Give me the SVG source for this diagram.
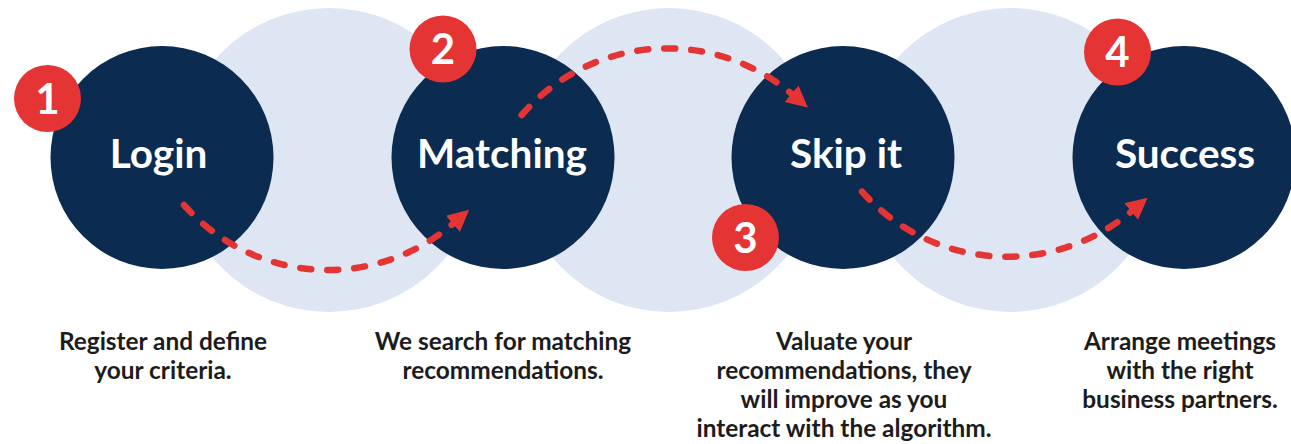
<svg xmlns="http://www.w3.org/2000/svg" width="1291" height="444" viewBox="0 0 1291 444">
<style>
.bg{fill:#dfe6f3}
.node{fill:#0b2b50}
.badge{fill:#e53434}
.lbl{font-family:Lato,"Liberation Sans",sans-serif;font-weight:700;font-size:40.5px;fill:#fff;text-anchor:middle}
.num{font-family:Lato,"Liberation Sans",sans-serif;font-weight:700;font-size:42px;fill:#fff;text-anchor:middle}
.cap{font-family:Lato,"Liberation Sans",sans-serif;font-weight:700;font-size:24.4px;fill:#1c1c1c;text-anchor:middle}
.flow{fill:none;stroke:#e53434;stroke-width:6.5;stroke-linecap:round;stroke-dasharray:11 16;marker-end:url(#ah)}
</style>
<defs>
<marker id="ah" viewBox="0 0 10 10" refX="0" refY="5" markerWidth="3.3" markerHeight="3.7" orient="auto" markerUnits="strokeWidth">
<path d="M0,0 L10,5 L0,10 z" fill="#e53434"/>
</marker>
</defs>
<g id="background">
<circle class="bg" cx="329" cy="160" r="152"/>
<circle class="bg" cx="669" cy="160" r="152"/>
<circle class="bg" cx="1010" cy="160" r="152"/>
</g>
<g id="node-login"><circle class="node" cx="162" cy="157.5" r="111.5"/><text class="lbl" x="158.5" y="168">Login</text></g>
<g id="node-matching"><circle class="node" cx="503" cy="157.5" r="111.5"/><text class="lbl" x="502" y="168">Matching</text></g>
<g id="node-skip"><circle class="node" cx="843" cy="157.5" r="111.5"/><text class="lbl" x="846" y="168">Skip it</text></g>
<g id="node-success"><circle class="node" cx="1184" cy="157.5" r="111.5"/><text class="lbl" x="1185" y="168">Success</text></g>
<g id="connectors">
<path class="flow" d="M184,205 A192,192 0 0,0 452.9,223.8"/>
<path class="flow" d="M521.7,115 A192.6,192.6 0 0,1 791.5,93.7"/>
<path class="flow" d="M862,191.7 A194,194 0 0,0 1131.2,211.6"/>
</g>
<g id="badge-1"><circle class="badge" cx="47.5" cy="98.5" r="33.5"/><text class="num" x="47.5" y="113.5">1</text></g>
<g id="badge-2"><circle class="badge" cx="443" cy="49" r="33.5"/><text class="num" x="443" y="64">2</text></g>
<g id="badge-3"><circle class="badge" cx="745.5" cy="237.5" r="33.5"/><text class="num" x="745.5" y="252.5">3</text></g>
<g id="badge-4"><circle class="badge" cx="1117.5" cy="52" r="33.5"/><text class="num" x="1117.5" y="67">4</text></g>
<g id="captions">
<text class="cap" x="163" y="350">Register and define</text>
<text class="cap" x="163" y="379">your criteria.</text>
<text class="cap" x="503" y="350">We search for matching</text>
<text class="cap" x="503" y="379">recommendations.</text>
<text class="cap" x="844" y="350">Valuate your</text>
<text class="cap" x="844" y="379">recommendations, they</text>
<text class="cap" x="844" y="408">will improve as you</text>
<text class="cap" x="844" y="437">interact with the algorithm.</text>
<text class="cap" x="1180" y="350">Arrange meetings</text>
<text class="cap" x="1180" y="379">with the right</text>
<text class="cap" x="1180" y="408">business partners.</text>
</g>
</svg>
